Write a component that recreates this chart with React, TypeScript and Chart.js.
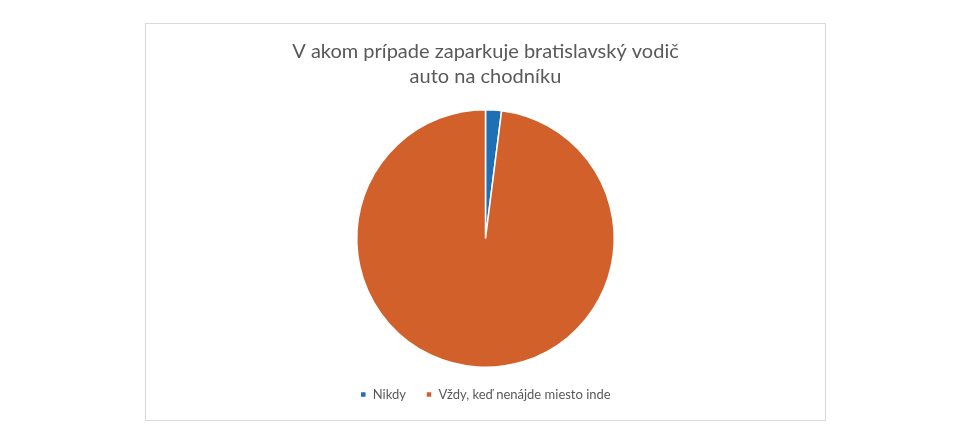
import { useEffect, useRef } from "react";
import { Chart, registerables } from "chart.js";

Chart.register(...registerables);

const titleLines = ["V akom prípade zaparkuje bratislavský vodič", "auto na chodníku"];
const categories = ["Nikdy", "Vždy, keď nenájde miesto inde"];
const shares = [2, 98];
const sliceColors = ["#1f6fb4", "#d2602a"];

export default function App() {
  const canvasRef = useRef<HTMLCanvasElement | null>(null);
  const chartRef = useRef<Chart | null>(null);

  useEffect(() => {
    const ctx = canvasRef.current?.getContext("2d");
    if (!ctx) return;
    chartRef.current?.destroy();

    chartRef.current = new Chart(ctx, {
      type: "pie",
      data: {
        labels: categories,
        datasets: [
          {
            data: shares,
            backgroundColor: sliceColors,
            borderColor: "#ffffff",
            borderWidth: 1.5,
          },
        ],
      },
      options: {
        animation: false,
        responsive: true,
        maintainAspectRatio: false,
        layout: { padding: { top: 0, bottom: 9, left: 0, right: 0 } },
        plugins: {
          title: {
            display: true,
            text: titleLines,
            color: "#595959",
            font: { family: "Lato", size: 20, weight: "normal", lineHeight: 1.25 },
            padding: { top: 15, bottom: 20 },
          },
          legend: {
            position: "bottom",
            labels: {
              color: "#595959",
              font: { family: "Lato", size: 13 },
              boxWidth: 6,
              boxHeight: 6,
              padding: 20,
            },
          },
          tooltip: { enabled: false },
        },
      },
    });

    return () => {
      chartRef.current?.destroy();
      chartRef.current = null;
    };
  }, []);

  return (
    <div
      style={{
        position: "absolute",
        left: 145,
        top: 23,
        width: 681,
        height: 398,
        boxSizing: "border-box",
        border: "1px solid #d9d9d9",
        background: "#fff",
      }}
    >
      <canvas ref={canvasRef} />
    </div>
  );
}
